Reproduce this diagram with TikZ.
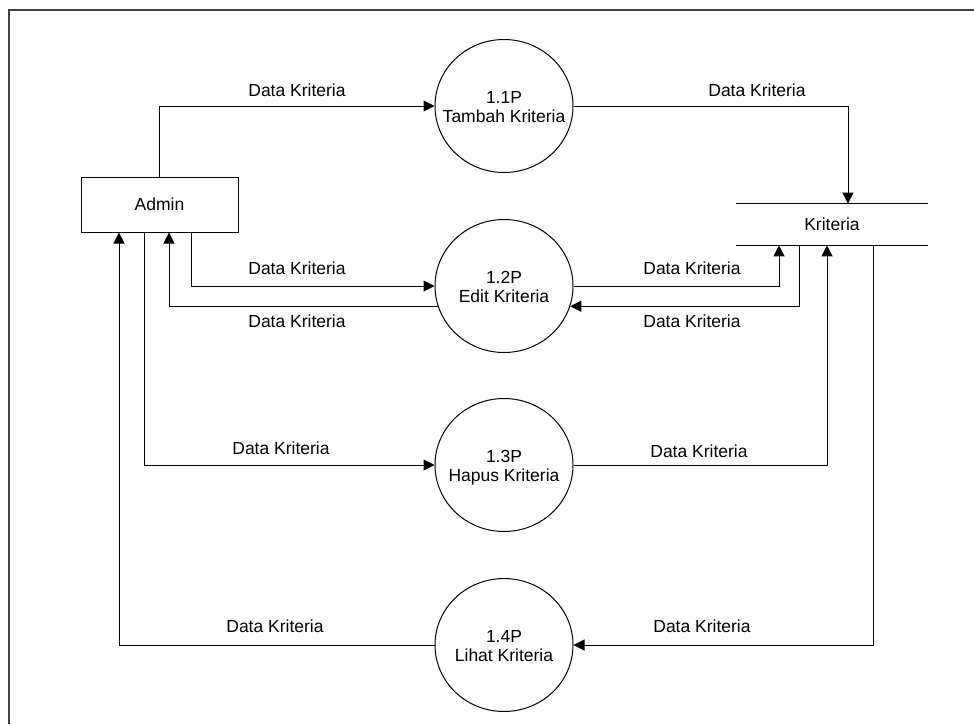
\documentclass[tikz,border=0pt]{standalone}
\usepackage{fontspec}
\setmainfont{Liberation Sans}
\usetikzlibrary{arrows.meta,shapes.geometric}

% two centred lines that do not widen the process bubble
\newcommand{\proctext}[2]{\raisebox{-3.7pt}[0pt][0pt]{\makebox[0pt]{\begin{tabular}{@{}c@{}}#1\\#2\end{tabular}}}}

\begin{document}
\begin{tikzpicture}[x=0.5pt,y=-0.5pt,
  font=\fontsize{8.75}{9.8}\selectfont,
  flow/.style={draw=black, line width=0.5pt, -{Triangle[length=5.5pt,width=5.5pt]}},
  line/.style={draw=black, line width=0.5pt},
  entity/.style={draw, line width=0.5pt, rectangle, minimum width=78.5pt, minimum height=27.5pt, inner sep=0pt},
  process/.style={draw, line width=0.5pt, ellipse, minimum width=69pt, minimum height=66.5pt, inner sep=0pt},
  store/.style={minimum width=96pt, minimum height=20.5pt, inner sep=0pt},
  lbl/.style={inner sep=0pt}
]
\useasboundingbox (0,0) rectangle (974,724);

% page frame
\draw[black!75, line width=0.75pt] (9,724) -- (9,10) -- (974,10);

% external entity, processes and data store
\node[entity] (admin) at (159.5,204.5) {Admin};
\node[process] (p1) at (504,106) {\proctext{1.1P}{Tambah Kriteria}};
\node[process] (p2) at (504,286) {\proctext{1.2P}{Edit Kriteria}};
\node[process] (p3) at (504,465) {\proctext{1.3P}{Hapus Kriteria}};
\node[process] (p4) at (504,645) {\proctext{1.4P}{Lihat Kriteria}};
\node[store] (kriteria) at (832,224.5) {Kriteria};
\draw[line] (kriteria.north west) -- (kriteria.north east);
\draw[line] (kriteria.south west) -- (kriteria.south east);

% data flows
\draw[flow] (admin.north) |- (p1.west);
\draw[flow] (p1.east) -| ([xshift=8pt]kriteria.north);

\draw[flow] ([xshift=15.75pt]admin.south) |- (p2.west);
\draw[flow] (p2.197) -| ([xshift=4.75pt]admin.south);
\draw[flow] (p2.east) -| ([xshift=-26.5pt]kriteria.south);
\draw[flow] ([xshift=-16.5pt]kriteria.south) |- (p2.-17);

\draw[flow] ([xshift=-7.75pt]admin.south) |- (p3.west);
\draw[flow] (p3.east) -| ([xshift=-2.5pt]kriteria.south);

\draw[flow] ([xshift=20.5pt]kriteria.south) |- (p4.east);
\draw[flow] (p4.west) -| ([xshift=-20.25pt]admin.south);

% flow labels
\node[lbl] (l1) at (297,90) {Data Kriteria};
\node[lbl] (l2) at (757,90) {Data Kriteria};
\node[lbl] (l3) at (297,268) {Data Kriteria};
\node[lbl] (l4) at (297,321) {Data Kriteria};
\node[lbl] (l5) at (692,268) {Data Kriteria};
\node[lbl] (l6) at (692,321) {Data Kriteria};
\node[lbl] (l7) at (281,448) {Data Kriteria};
\node[lbl] (l8) at (699,451) {Data Kriteria};
\node[lbl] (l9) at (275,626) {Data Kriteria};
\node[lbl] (l10) at (702,626) {Data Kriteria};
\end{tikzpicture}
\end{document}
